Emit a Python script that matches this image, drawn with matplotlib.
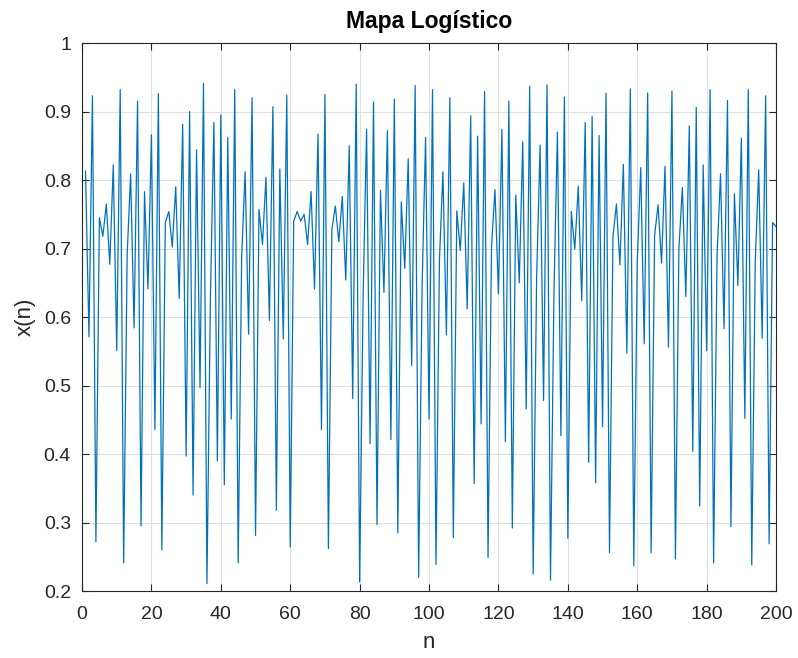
import matplotlib.pyplot as plt

plt.rcParams['font.family'] = ['Liberation Sans', 'DejaVu Sans']

# valores, n = 1..200
n = list(range(1, 201))
x = [0.813, 0.571, 0.923, 0.272, 0.745, 0.718, 0.765, 0.677, 0.822, 0.551,
     0.932, 0.241, 0.690, 0.809, 0.584, 0.915, 0.295, 0.783, 0.641, 0.866,
     0.436, 0.926, 0.260, 0.738, 0.754, 0.702, 0.790, 0.627, 0.881, 0.397,
     0.900, 0.340, 0.844, 0.497, 0.941, 0.211, 0.630, 0.884, 0.390, 0.895,
     0.355, 0.862, 0.451, 0.932, 0.241, 0.688, 0.812, 0.575, 0.920, 0.281,
     0.757, 0.706, 0.804, 0.595, 0.907, 0.318, 0.816, 0.568, 0.924, 0.264,
     0.740, 0.754, 0.740, 0.750, 0.706, 0.783, 0.641, 0.867, 0.436, 0.925,
     0.262, 0.728, 0.762, 0.710, 0.776, 0.654, 0.850, 0.481, 0.940, 0.213,
     0.630, 0.874, 0.415, 0.914, 0.297, 0.785, 0.636, 0.872, 0.421, 0.918,
     0.285, 0.768, 0.671, 0.831, 0.529, 0.938, 0.220, 0.645, 0.862, 0.451,
     0.932, 0.239, 0.684, 0.812, 0.574, 0.920, 0.278, 0.755, 0.697, 0.796,
     0.612, 0.894, 0.357, 0.864, 0.444, 0.929, 0.249, 0.703, 0.786, 0.634,
     0.874, 0.418, 0.915, 0.292, 0.778, 0.650, 0.856, 0.466, 0.937, 0.225,
     0.656, 0.851, 0.478, 0.939, 0.216, 0.637, 0.870, 0.427, 0.921, 0.277,
     0.754, 0.699, 0.791, 0.624, 0.884, 0.388, 0.893, 0.358, 0.865, 0.440,
     0.927, 0.256, 0.718, 0.765, 0.676, 0.823, 0.547, 0.933, 0.237, 0.680,
     0.818, 0.561, 0.927, 0.256, 0.719, 0.764, 0.679, 0.820, 0.556, 0.930,
     0.247, 0.700, 0.789, 0.630, 0.879, 0.404, 0.906, 0.324, 0.822, 0.551,
     0.932, 0.241, 0.690, 0.809, 0.583, 0.916, 0.294, 0.780, 0.646, 0.861,
     0.452, 0.932, 0.238, 0.680, 0.815, 0.569, 0.923, 0.269, 0.738, 0.732]

xticks = list(range(0, 201, 20))
yticks = [0.2, 0.3, 0.4, 0.5, 0.6, 0.7, 0.8, 0.9, 1.0]
ytick_labels = ['0.2', '0.3', '0.4', '0.5', '0.6', '0.7', '0.8', '0.9', '1']

fig = plt.figure(figsize=(7.98, 6.58), dpi=100)
ax = fig.add_axes([0.1028, 0.1018, 0.8697, 0.8328])

ax.plot(n, x, color='#0072BD', linewidth=0.9)

ax.set_xlim(0, 200)
ax.set_ylim(0.2, 1)
ax.set_xticks(xticks)
ax.set_yticks(yticks)
ax.set_yticklabels(ytick_labels)

ax.grid(True, color='#dfdfdf', linewidth=0.8)
ax.set_axisbelow(True)
for s in ax.spines.values():
    s.set_color('#262626')
    s.set_linewidth(0.8)
ax.tick_params(direction='in', top=True, right=True, labelsize=14,
               colors='#262626', length=5)
ax.tick_params(axis='x', pad=11)
ax.tick_params(axis='y', pad=8)

ax.set_title('Mapa Logístico', fontsize=16.5, fontweight='bold', pad=11)
ax.set_xlabel('n', fontsize=16, color='#262626', labelpad=6)
ax.set_ylabel('x(n)', fontsize=16, color='#262626', labelpad=6)

fig.savefig('out.png', dpi=100)
